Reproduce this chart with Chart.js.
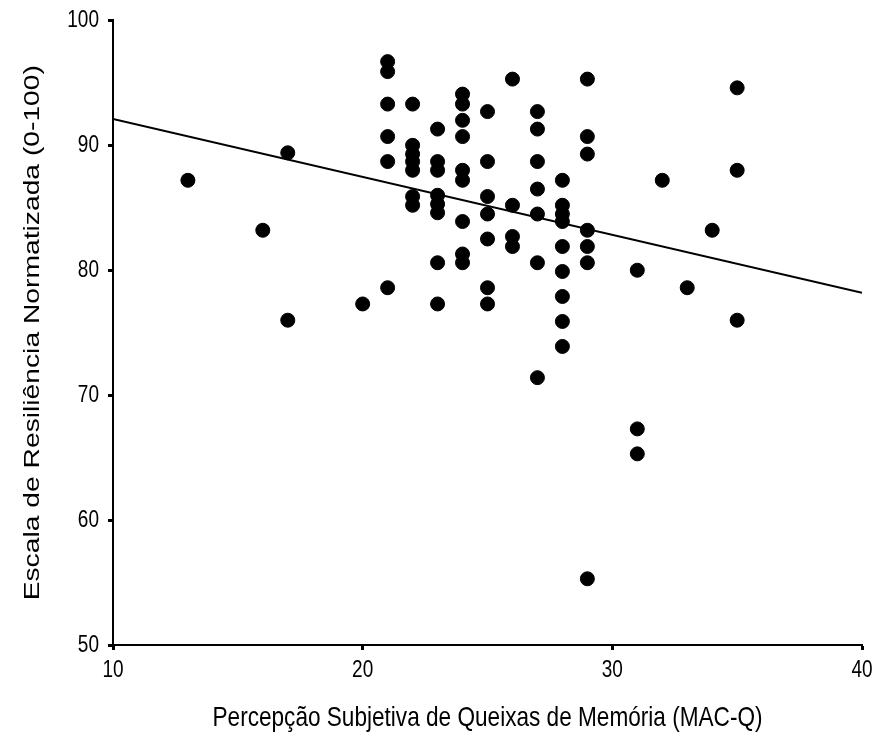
<!DOCTYPE html>
<html>
<head>
<meta charset="utf-8">
<script src="https://cdn.jsdelivr.net/npm/chart.js@4"></script>
<style>
  html, body { margin: 0; padding: 0; background: #fff; }
  #wrap { width: 876px; height: 756px; }
</style>
</head>
<body>
<div id="wrap"><canvas id="canvas"></canvas></div>
<script>
// MAC-Q score (x) and normalized resilience score (y)
const macq = [
  13, 16, 17, 17, 20,
  21, 21, 21, 21, 21, 21,
  22, 22, 22, 22, 22, 22, 22,
  23, 23, 23, 23, 23, 23, 23, 23,
  24, 24, 24, 24, 24, 24, 24, 24, 24,
  25, 25, 25, 25, 25, 25, 25,
  26, 26, 26, 26,
  27, 27, 27, 27, 27, 27, 27,
  28, 28, 28, 28, 28, 28, 28, 28, 28,
  29, 29, 29, 29, 29, 29, 29,
  31, 31, 31, 32, 33, 34, 35, 35, 35
]
const resiliencia = [
  87.2, 83.2, 89.4, 76.0, 77.3,
  96.7, 95.9, 93.3, 90.7, 88.7, 78.6,
  93.3, 90.0, 89.3, 88.7, 88.0, 85.9, 85.2,
  91.3, 88.7, 88.0, 86.0, 85.3, 84.6, 80.6, 77.3,
  94.1, 93.3, 92.0, 90.7, 88.0, 87.2, 83.9, 81.3, 80.6,
  92.7, 88.7, 85.9, 84.5, 82.5, 78.6, 77.3,
  95.3, 85.2, 82.7, 81.9,
  92.7, 91.3, 88.7, 86.5, 84.5, 80.6, 71.4,
  87.2, 85.2, 84.5, 83.9, 81.9, 79.9, 77.9, 75.9, 73.9,
  95.3, 90.7, 89.3, 83.2, 81.9, 80.6, 55.3,
  80.0, 67.3, 65.3, 87.2, 78.6, 83.2, 94.6, 88.0, 76.0
]
// fitted line at both ends of the axis
const fitX = [10, 40]
const fitY = [92.1, 78.2]

const xTicks = [10, 20, 30, 40]
const yTicks = [50, 60, 70, 80, 90, 100]

const font = 'Arial, "Liberation Sans", sans-serif'
const TEXT_STRETCH = 1.25 // the original text looks taller than it is wide

// stretch every piece of text vertically (screen space) around its anchor
const stretchText = {
  id: 'stretchText',
  beforeDraw(chart) {
    const ctx = chart.ctx
    if (ctx._stretched) return
    ctx._stretched = true
    const fill = ctx.fillText.bind(ctx)
    ctx.fillText = function (text, x, y, maxWidth) {
      const m = ctx.getTransform()
      const py = m.b * x + m.d * y + m.f
      ctx.save()
      ctx.setTransform(new DOMMatrix().translate(0, py).scale(1, TEXT_STRETCH).translate(0, -py).multiply(m))
      if (maxWidth === undefined) fill(text, x, y)
      else fill(text, x, y, maxWidth)
      ctx.restore()
    }
  },
}

const data = {
  datasets: [
    {
      type: 'scatter',
      data: macq.map((x, i) => ({ x: x, y: resiliencia[i] })),
      backgroundColor: '#000',
      borderColor: '#000',
      pointRadius: 7,
      pointHoverRadius: 7,
    },
    {
      type: 'line',
      data: fitX.map((x, i) => ({ x: x, y: fitY[i] })),
      borderColor: '#000',
      borderWidth: 2,
      pointRadius: 0,
      fill: false,
    },
  ],
}

const config = {
  type: 'scatter',
  data: data,
  plugins: [stretchText],
  options: {
    responsive: true,
    maintainAspectRatio: false,
    animation: false,
    layout: { padding: { top: 20, right: 0, left: 0, bottom: 0 } },
    plugins: { legend: { display: false }, tooltip: { enabled: false } },
    scales: {
      x: {
        type: 'linear',
        min: 10,
        max: 40,
        afterBuildTicks: (axis) => { axis.ticks = xTicks.map(v => ({ value: v })) },
        afterFit: (axis) => {
          axis.height = 111
          axis.paddingLeft = 0
          axis.paddingRight = 14
        },
        border: { display: true, color: '#000', width: 2 },
        grid: { drawOnChartArea: false, color: '#000', tickLength: 5, tickWidth: 3 },
        ticks: { color: '#000', font: { family: font, size: 19 }, padding: 9 },
        title: {
          display: true,
          text: 'Percepção Subjetiva de Queixas de Memória (MAC-Q)',
          color: '#000',
          font: { family: font, size: 22.6 },
          padding: { top: 0, bottom: 24 },
        },
      },
      y: {
        type: 'linear',
        min: 50,
        max: 100,
        afterBuildTicks: (axis) => { axis.ticks = yTicks.map(v => ({ value: v })) },
        afterFit: (axis) => { axis.width = 113 },
        border: { display: true, color: '#000', width: 2 },
        grid: { drawOnChartArea: false, color: '#000', tickLength: 5, tickWidth: 3 },
        ticks: { color: '#000', font: { family: font, size: 19 }, padding: 9 },
        title: {
          display: true,
          text: 'Escala de Resiliência Normatizada (0-100)',
          color: '#000',
          font: { family: font, size: 22.6 },
          padding: { top: 19, bottom: 0 },
        },
      },
    },
  },
}

const canvas = document.getElementById('canvas')
const chart = new Chart(canvas, config)
</script>
</body>
</html>
